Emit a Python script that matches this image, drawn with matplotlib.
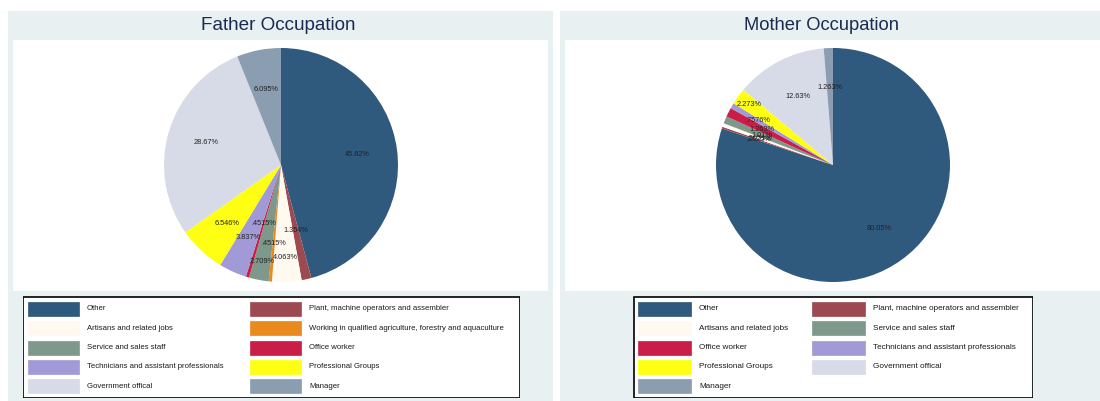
import matplotlib
matplotlib.use('Agg')
import matplotlib.pyplot as plt
from matplotlib.patches import Rectangle
import numpy as np

plt.rcParams['font.family'] = ['Liberation Sans', 'DejaVu Sans']

W, H = 1100, 401

# occupation shares (%), in drawing order (clockwise from 12 o'clock)
father_labels = ['Other', 'Plant, machine operators and assembler', 'Artisans and related jobs',
                 'Working in qualified agriculture, forestry and aquaculture', 'Service and sales staff',
                 'Office worker', 'Technicians and assistant professionals', 'Professional Groups',
                 'Government offical', 'Manager']
father_pct = [45.82, 1.354, 4.063, 0.4515, 2.709, 0.4515, 3.837, 6.546, 28.67, 6.095]

mother_labels = ['Other', 'Plant, machine operators and assembler', 'Artisans and related jobs',
                 'Service and sales staff', 'Office worker', 'Technicians and assistant professionals',
                 'Professional Groups', 'Government offical', 'Manager']
mother_pct = [80.05, 0.2525, 0.5051, 1.01, 1.263, 0.7576, 2.273, 12.63, 1.263]

# how far out each slice label sits, as a fraction of the radius
father_label_r = [0.655, 0.57, 0.79, 0.67, 0.84, 0.52, 0.68, 0.68, 0.67, 0.655]
mother_label_r = [0.67, 0.67, 0.67, 0.66, 0.68, 0.745, 0.88, 0.66, 0.66]

colors = {
    'Other': '#30597e',
    'Plant, machine operators and assembler': '#9c4a50',
    'Artisans and related jobs': '#fff9f0',
    'Working in qualified agriculture, forestry and aquaculture': '#e88a1c',
    'Service and sales staff': '#7e998c',
    'Office worker': '#c81e48',
    'Technicians and assistant professionals': '#a19ad6',
    'Professional Groups': '#ffff14',
    'Government offical': '#d7dbe7',
    'Manager': '#8a9db1',
}

BG = '#e8f0f2'
TITLE_COLOR = '#1b2a52'


def fig_box(x0, y0, x1, y1):
    # pixel box (y measured from top) -> figure fraction [left, bottom, width, height]
    return [x0 / W, (H - y1) / H, (x1 - x0) / W, (y1 - y0) / H]


def add_rect(fig, x0, y0, x1, y1, **kw):
    l, b, w, h = fig_box(x0, y0, x1, y1)
    fig.add_artist(Rectangle((l, b), w, h, transform=fig.transFigure, zorder=-10, **kw))


def fmt_pct(v):
    # 4 significant digits, no leading zero: 0.4515 -> ".4515%"
    s = '{:.4g}'.format(v)
    if s.startswith('0.'):
        s = s[1:]
    return s + '%'


def draw_panel(fig, title, labels, pct, label_r, panel, plot, title_x, title_size, center,
               legend_box, col_x, sw_w, text_gap, legend_size):
    add_rect(fig, *panel, facecolor=BG, edgecolor='none')
    add_rect(fig, *plot, facecolor='white', edgecolor='none')
    fig.text(title_x / W, 1 - 26 / H, title, ha='center', va='center',
             fontsize=title_size, color=TITLE_COLOR)

    R = 117
    cx, cy = center
    ax = fig.add_axes(fig_box(cx - R, cy - R, cx + R, cy + R))
    ax.patch.set_visible(False)
    wedges, _ = ax.pie(pct, colors=[colors[l] for l in labels], startangle=90,
                       counterclock=False, wedgeprops=dict(linewidth=0))
    for w, v, r in zip(wedges, pct, label_r):
        mid = np.deg2rad((w.theta1 + w.theta2) / 2)
        ax.text(r * np.cos(mid), r * np.sin(mid), fmt_pct(v), ha='center', va='center',
                fontsize=5.3, color='#222222')
    ax.set_xlim(-1, 1)
    ax.set_ylim(-1, 1)
    ax.set_aspect('equal')
    ax.axis('off')

    # legend box, two columns filled row by row
    x0, y0, x1, y1 = legend_box
    lax = fig.add_axes(fig_box(x0, y0, x1, y1))
    lax.set_xlim(x0, x1)
    lax.set_ylim(y1, y0)
    lax.axis('off')
    lax.add_patch(Rectangle((x0 + 0.5, y0 + 0.5), x1 - x0 - 1, y1 - y0 - 1,
                            facecolor='white', edgecolor='black', linewidth=1.2))
    row_y = [309, 328.3, 347.6, 366.9, 386.2]
    for i, lab in enumerate(labels):
        r, c = divmod(i, 2)
        y = row_y[r]
        sx = col_x[c]
        lax.add_patch(Rectangle((sx, y - 7), sw_w, 14, facecolor=colors[lab],
                                edgecolor=colors[lab], linewidth=0.5))
        lax.text(sx + sw_w + text_gap, y, lab, ha='left', va='center',
                 fontsize=legend_size, color='#1a1a1a')


fig = plt.figure(figsize=(W / 100, H / 100), dpi=100)
fig.patch.set_facecolor('white')

draw_panel(fig, 'Father Occupation', father_labels, father_pct, father_label_r,
           panel=(8, 11, 553, 401), plot=(13, 40, 548, 291), title_x=278, title_size=13.6,
           center=(281, 165), legend_box=(23, 296, 520, 398), col_x=[28, 250], sw_w=51,
           text_gap=8, legend_size=5.6)
draw_panel(fig, 'Mother Occupation', mother_labels, mother_pct, mother_label_r,
           panel=(560, 11, 1100, 401), plot=(565, 40, 1100, 291), title_x=822, title_size=13.2,
           center=(833, 165), legend_box=(633, 296, 1033, 398), col_x=[638, 812], sw_w=53,
           text_gap=8, legend_size=5.9)

fig.savefig('out.png', dpi=100, facecolor='white')
